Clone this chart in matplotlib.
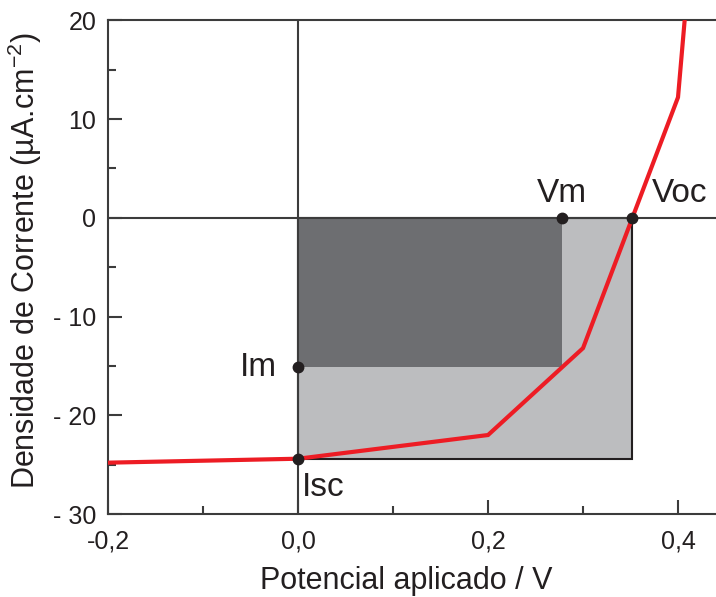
import numpy as np
import matplotlib.pyplot as plt
from matplotlib.patches import Rectangle
from matplotlib.ticker import MultipleLocator, FixedLocator

plt.rcParams['font.family'] = ['Liberation Sans', 'DejaVu Sans']
plt.rcParams['mathtext.fontset'] = 'custom'
plt.rcParams['mathtext.rm'] = 'Liberation Sans'

# curva J-V (potencial em V, densidade de corrente em uA/cm2)
v = [-0.2, 0.0, 0.2, 0.3, 0.4, 0.407]
j = [-24.8, -24.4, -22.0, -13.2, 12.2, 20.0]

v_m = 0.278                      # potencial no ponto de maxima potencia
i_m = np.interp(v_m, v, j)       # corrente no ponto de maxima potencia
i_sc = np.interp(0.0, v, j)      # corrente de curto-circuito
v_oc = np.interp(0.0, j, v)      # potencial de circuito aberto

x_ticks = [-0.2, 0.0, 0.2, 0.4]
x_labels = ["-0,2", "0,0", "0,2", "0,4"]
y_ticks = [20, 10, 0, -10, -20, -30]
y_labels = ["20", "10", "0", "- 10", "- 20", "- 30"]

axis_col = "#3c3c3c"
dark = "#6d6e71"
light = "#bcbdbf"
red = "#ed1c24"
txt = "#231f20"

fig = plt.figure(figsize=(7.16, 5.97), dpi=100)
ax = fig.add_axes([0.151, 0.139, 0.849, 0.827])

ax.add_patch(Rectangle((0, i_sc), v_oc, -i_sc, facecolor=light,
                       edgecolor=txt, lw=1.5, zorder=1))
ax.add_patch(Rectangle((0, i_m), v_m, -i_m, facecolor=dark,
                       edgecolor="none", zorder=2))

ax.axhline(0, color=axis_col, lw=1.5, zorder=3)
ax.axvline(0, color=axis_col, lw=1.5, zorder=3)

ax.plot(v, j, color=red, lw=3, zorder=4, solid_joinstyle="miter")

pts_x = [v_m, v_oc, 0, 0]
pts_y = [0, 0, i_m, i_sc]
ax.plot(pts_x, pts_y, "o", color=txt, ms=7.5, zorder=5)

fs_lab = 24
ax.text(v_m, 0.9, "Vm", fontsize=fs_lab, ha="center", va="bottom", color=txt)
ax.text(v_oc + 0.021, 0.9, "Voc", fontsize=fs_lab, ha="left", va="bottom", color=txt)
ax.text(-0.022, i_m, "Im", fontsize=fs_lab, ha="right", va="center", color=txt)
ax.text(0.004, i_sc - 1.3, "Isc", fontsize=fs_lab, ha="left", va="top", color=txt)

ax.set_xlim(-0.2, 0.44)
ax.set_ylim(-30, 20)

ax.xaxis.set_major_locator(FixedLocator(x_ticks))
ax.set_xticklabels(x_labels)
ax.xaxis.set_minor_locator(MultipleLocator(0.1))
ax.yaxis.set_major_locator(FixedLocator(y_ticks))
ax.set_yticklabels(y_labels)
ax.yaxis.set_minor_locator(MultipleLocator(5))

ax.tick_params(which="both", direction="in", color=axis_col, width=1.5,
               labelsize=18, labelcolor=txt)
ax.tick_params(which="major", length=10)
ax.tick_params(which="minor", length=6)
ax.tick_params(axis="x", which="major", pad=11)
ax.tick_params(axis="y", which="major", pad=8.5)

for s in ["left", "bottom", "top"]:
    ax.spines[s].set_color(axis_col)
    ax.spines[s].set_linewidth(1.5)
ax.spines["right"].set_visible(False)

ax.set_xlabel("Potencial aplicado / V", fontsize=22, color=txt)
ax.set_ylabel(r"Densidade de Corrente (µA.cm$^{\mathregular{-2}}$)", fontsize=22,
              color=txt)
ax.xaxis.set_label_coords(0.49, -0.105)
ax.yaxis.set_label_coords(-0.105, 0.514)

plt.savefig("out.png", dpi=100)
